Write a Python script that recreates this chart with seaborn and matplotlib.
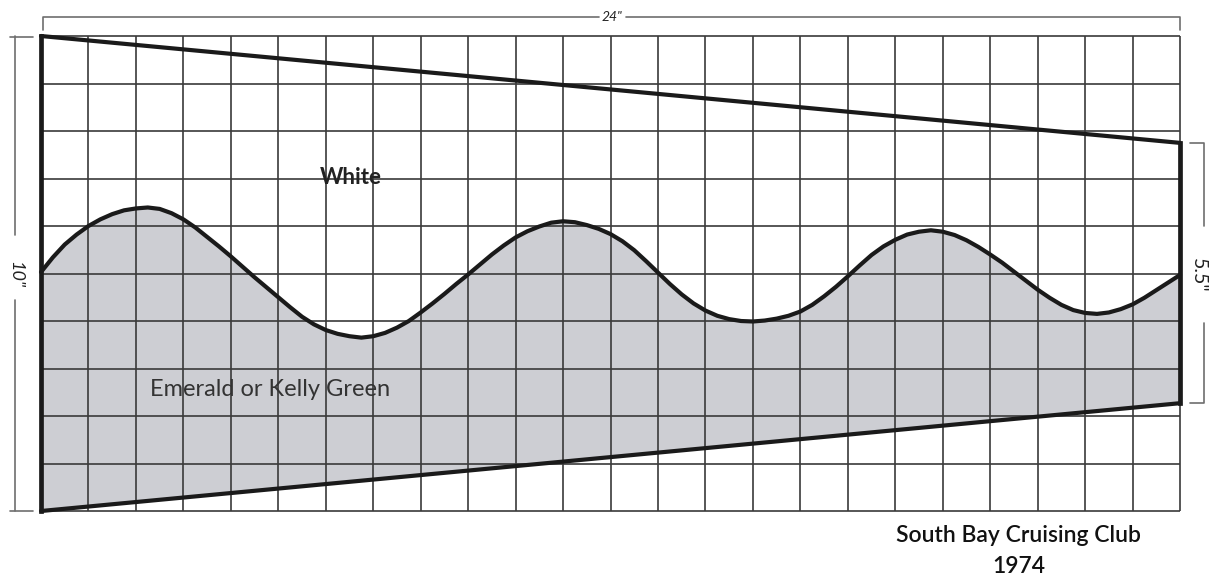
import matplotlib
matplotlib.use("Agg")
import matplotlib.pyplot as plt
import numpy as np
import pandas as pd
import seaborn as sns

# wave between the white and the green, read every quarter square
wave_x = [0, 0.25, 0.5, 0.75, 1, 1.25, 1.5, 1.75, 2, 2.25, 2.5, 2.75,
          3, 3.25, 3.5, 3.75, 4, 4.25, 4.5, 4.75, 5, 5.25, 5.5, 5.75,
          6, 6.25, 6.5, 6.75, 7, 7.25, 7.5, 7.75, 8, 8.25, 8.5, 8.75,
          9, 9.25, 9.5, 9.75, 10, 10.25, 10.5, 10.75, 11, 11.25, 11.5, 11.75,
          12, 12.25, 12.5, 12.75, 13, 13.25, 13.5, 13.75, 14, 14.25, 14.5, 14.75,
          15, 15.25, 15.5, 15.75, 16, 16.25, 16.5, 16.75, 17, 17.25, 17.5, 17.75,
          18, 18.25, 18.5, 18.75, 19, 19.25, 19.5, 19.75, 20, 20.25, 20.5, 20.75,
          21, 21.25, 21.5, 21.75, 22, 22.25, 22.5, 22.75, 23, 23.25, 23.5, 23.75, 24]
wave_y = [5.03, 5.34, 5.61, 5.82, 6.0, 6.14, 6.25, 6.33, 6.37, 6.39, 6.36, 6.27,
          6.14, 5.97, 5.77, 5.57, 5.36, 5.14, 4.92, 4.71, 4.5, 4.29, 4.09, 3.93,
          3.81, 3.73, 3.68, 3.65, 3.68, 3.75, 3.86, 4.0, 4.18, 4.37, 4.57, 4.78,
          4.98, 5.19, 5.4, 5.59, 5.76, 5.89, 5.99, 6.07, 6.1, 6.08, 6.02, 5.94,
          5.83, 5.68, 5.49, 5.26, 5.02, 4.78, 4.56, 4.37, 4.22, 4.11, 4.04, 4.0,
          3.99, 4.01, 4.05, 4.11, 4.2, 4.34, 4.52, 4.72, 4.94, 5.17, 5.39, 5.57,
          5.71, 5.82, 5.88, 5.91, 5.88, 5.81, 5.7, 5.56, 5.4, 5.23, 5.04, 4.85,
          4.66, 4.49, 4.34, 4.23, 4.17, 4.15, 4.18, 4.25, 4.35, 4.49, 4.65, 4.81, 4.97]

# flag outline, in inches on the grid
edge_x = [0, 24]
top_y = [10, 7.75]
bottom_y = [0, 2.27]
hoist = 10
fly = 24

sns.set_theme(style="white")
plt.rcParams['font.family'] = ['Lato', 'DejaVu Sans']

fig = plt.figure(figsize=(12.09, 5.76), dpi=100)
ax = fig.add_axes([0, 0, 1, 1])
ax.set_xlim(-0.864, 24.61)
ax.set_ylim(-1.368, 10.758)

dark = "#1a1a1a"
line_grey = "#6e6e6e"

# green part
wave = pd.DataFrame({"x": wave_x, "y": wave_y})
low = np.interp(wave["x"], edge_x, bottom_y)
ax.fill_between(wave["x"], low, wave["y"], color="#cdced3", lw=0, zorder=1)

# grid
ax.vlines(range(fly + 1), 0, hoist, color="#3a3a3a", lw=1.2, zorder=2)
ax.hlines(range(hoist + 1), 0, fly, color="#3a3a3a", lw=1.2, zorder=2)

# outline
sns.lineplot(data=wave, x="x", y="y", color=dark, lw=3, ax=ax, zorder=3, estimator=None,
             solid_joinstyle="round")
sns.lineplot(x=edge_x, y=top_y, color=dark, lw=3, ax=ax, zorder=3, estimator=None)
sns.lineplot(x=edge_x, y=bottom_y, color=dark, lw=3, ax=ax, zorder=3, estimator=None)
ax.plot([0, 0], [0, hoist], color=dark, lw=3.4, zorder=3, solid_capstyle="projecting")
ax.plot([fly, fly], [bottom_y[1], top_y[1]], color=dark, lw=3.4, zorder=3, solid_capstyle="projecting")
ax.axis("off")

# dimension lines
dim = dict(color=line_grey, lw=1.2, zorder=2)
ax.plot([0.04, 0.04, 11.75], [10.13, 10.39, 10.39], **dim)
ax.plot([12.33, 24, 24], [10.39, 10.39, 10.13], **dim)
ax.plot([-0.55, -0.55], [5.81, 10], **dim)
ax.plot([-0.55, -0.55], [0, 4.44], **dim)
ax.plot([-0.65, -0.17], [9.98, 9.98], **dim)
ax.plot([-0.65, -0.17], [0, 0], **dim)
ax.plot([24.22, 24.5, 24.5], [7.75, 7.75, 6.0], **dim)
ax.plot([24.22, 24.5, 24.5], [2.27, 2.27, 3.95], **dim)

ax.text(12.03, 10.39, '24"', ha="center", va="center", fontsize=10, color="#222222", style="italic")
ax.text(-0.55, 4.97, '10"', ha="center", va="center", rotation=270, fontsize=13, color="#222222", style="italic")
ax.text(24.38, 4.97, '5.5"', ha="center", va="center", rotation=270, fontsize=14, color="#222222")

ax.text(6.53, 7.02, "White", ha="center", va="center", fontsize=16, color="#222222", weight="bold")
ax.text(4.83, 2.55, "Emerald or Kelly Green", ha="center", va="center", fontsize=17, color="#333333")
ax.text(20.6, -0.52, "South Bay Cruising Club", ha="center", va="center", fontsize=16.5, color="#111111", weight="semibold")
ax.text(20.6, -1.17, "1974", ha="center", va="center", fontsize=16.5, color="#111111", weight="semibold")

fig.savefig("out.png", dpi=100)
